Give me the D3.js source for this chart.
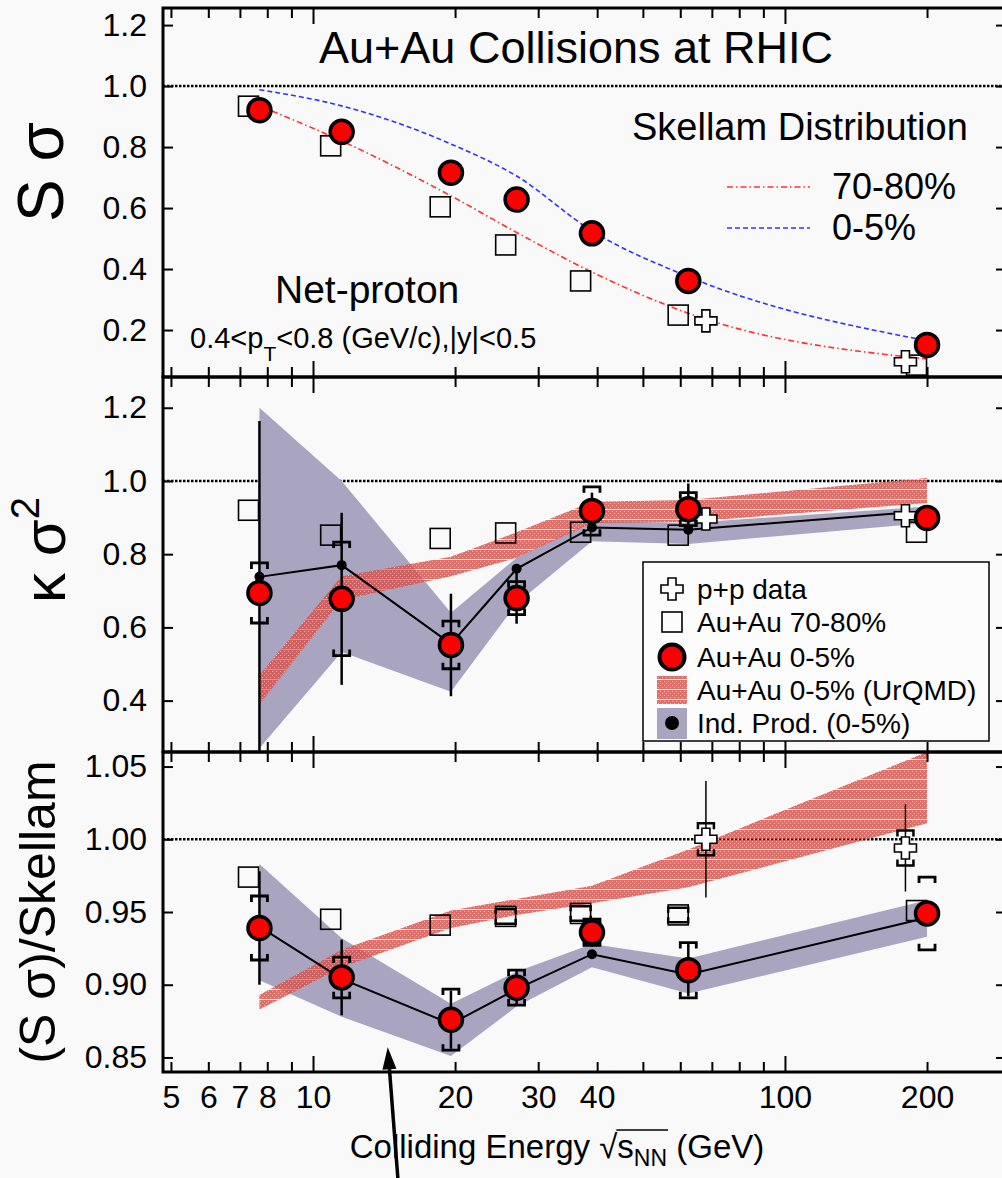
<!DOCTYPE html>
<html><head><meta charset="utf-8">
<script src="https://cdn.jsdelivr.net/npm/d3@7"></script>
<style>
html,body{margin:0;padding:0;background:#f9f9f9;}
svg{display:block;font-family:"Liberation Sans",Arial,Helvetica,sans-serif;}
</style></head><body><svg id="c" width="1002" height="1178"></svg>
<script>
// ---------------- DATA ----------------
const energies = [7.7, 11.5, 19.6, 27, 39, 62.4, 200];
const periphEnergies = [7.3, 10.9, 18.6, 25.6, 36.9, 59.4, 190];
const ppEnergies = [68, 180];
const xMajorTicks = [10, 100];
const xMinorTicks = [5, 6, 7, 8, 9, 20, 30, 40, 50, 60, 70, 80, 90, 200];
const xTickLabels = [5, 6, 7, 8, 10, 20, 30, 40, 100, 200];

// Panel 1: S sigma
const ssTicks = [0.2, 0.4, 0.6, 0.8, 1.0, 1.2];
const ssCentral = [0.921, 0.850, 0.716, 0.628, 0.517, 0.361, 0.151];
const ssPeriph = [0.934, 0.804, 0.604, 0.479, 0.361, 0.249, 0.085];
const ssPP = [0.23, 0.096];
const skellamPeriph = [0.935, 0.82, 0.64, 0.52, 0.39, 0.255, 0.105];
const skellamCentral = [0.988, 0.935, 0.81, 0.705, 0.525, 0.375, 0.165];

// Panel 2: kappa sigma^2
const ksTicks = [0.4, 0.6, 0.8, 1.0, 1.2];
const ksCentral = [0.694, 0.678, 0.552, 0.68, 0.918, 0.923, 0.899];
const ksStat = [0.47, 0.235, 0.14, 0.07, 0.05, 0.07, 0.02];
const ksSys = [0.082, 0.155, 0.065, 0.045, 0.066, 0.045, 0.015];
const ksPeriph = [0.92, 0.852, 0.843, 0.858, 0.86, 0.852, 0.86];
const ksPP = [0.896, 0.905];
const ksIndProd = [0.738, 0.77, 0.555, 0.76, 0.873, 0.867, 0.918];
const ksIndLow = [0.27, 0.533, 0.424, 0.665, 0.835, 0.828, 0.885];
const ksIndHigh = [1.2, 1.0, 0.64, 0.79, 0.89, 0.885, 0.93];
const ksUrqmdLow = [0.39, 0.675, 0.74, 0.79, 0.885, 0.888, 0.94];
const ksUrqmdHigh = [0.47, 0.74, 0.793, 0.86, 0.943, 0.948, 1.008];

// Panel 3: (S sigma)/Skellam
const rTicks = [0.85, 0.90, 0.95, 1.00, 1.05];
const rCentral = [0.939, 0.905, 0.876, 0.898, 0.936, 0.910, 0.949];
const rStat = [0.039, 0.026, 0.02, 0.012, 0.01, 0.018, 0.008];
const rSys = [0.022, 0.014, 0.021, 0.012, 0.009, 0.019, 0.025];
const rPeriph = [0.974, 0.945, 0.941, 0.947, 0.949, 0.948, 0.951];
const rPeriphSys = [0, 0, 0, 0.005, 0.005, 0.005, 0];
const rPP = [1.0, 0.994];
const rPPStat = [0.04, 0.03];
const rPPSys = [0.011, 0.012];
const rIndProd = [0.94, 0.904, 0.873, 0.897, 0.921, 0.907, 0.946];
const rIndLow = [0.903, 0.878, 0.851, 0.885, 0.912, 0.894, 0.933];
const rIndHigh = [0.983, 0.932, 0.887, 0.909, 0.928, 0.918, 0.958];
const rUrqmdLow = [0.883, 0.912, 0.939, 0.948, 0.956, 0.967, 1.011];
const rUrqmdHigh = [0.893, 0.924, 0.951, 0.959, 0.968, 0.993, 1.06];

const legendLabels = ["p+p data", "Au+Au 70-80%", "Au+Au 0-5%", "Au+Au 0-5% (UrQMD)", "Ind. Prod. (0-5%)"];
const skellamLabels = ["70-80%", "0-5%"];

// ---------------- LAYOUT ----------------
const svg = d3.select('#c');
const defs = svg.append('defs');
const X0 = 163, X1 = 1006;
const x = d3.scaleLog().domain([4.81, 294]).range([X0, X1]);
const panels = [
  {top: 8, bottom: 377, y: d3.scaleLinear().domain([0.046, 1.256]).range([377, 8]), ticks: ssTicks, fmt: d3.format('.1f')},
  {top: 377, bottom: 752, y: d3.scaleLinear().domain([0.2596, 1.284]).range([752, 377]), ticks: ksTicks, fmt: d3.format('.1f')},
  {top: 752, bottom: 1072, y: d3.scaleLinear().domain([0.84, 1.06]).range([1072, 752]), ticks: rTicks, fmt: d3.format('.2f')}
];
const RED = '#ff0000', LAV = '#a9a4c0';

// UrQMD pattern
const pat = defs.append('pattern').attr('id', 'urqmd').attr('patternUnits', 'userSpaceOnUse')
  .attr('width', 4).attr('height', 10);
pat.append('rect').attr('width', 4).attr('height', 9).attr('fill', '#d4504a').attr('fill-opacity', 0.82);
[[0,1],[2,3],[0,5],[2,7]].forEach(([a,b]) => pat.append('rect').attr('x', a).attr('y', b)
  .attr('width', 1).attr('height', 1).attr('fill', '#fff').attr('fill-opacity', 0.6));

panels.forEach((p, i) => {
  defs.append('clipPath').attr('id', 'clip' + i).append('rect')
    .attr('x', X0).attr('y', p.top).attr('width', X1 - X0).attr('height', p.bottom - p.top);
  p.g = svg.append('g').attr('clip-path', `url(#clip${i})`);
  // dotted unity line
  p.g.append('line').attr('x1', X0).attr('x2', X1).attr('y1', p.y(1)).attr('y2', p.y(1))
    .attr('stroke', '#000').attr('stroke-width', 2.5).attr('stroke-dasharray', '2.5,1.5');
});

// ---------- helpers ----------
function zip(es, vs) { return es.map((e, i) => ({e, v: vs[i]})); }
function band(g, y, lo, hi, fill) {
  const d = energies.map((e, i) => ({e, lo: lo[i], hi: hi[i]}));
  g.append('path').datum(d).attr('fill', fill)
    .attr('d', d3.area().x(d => x(d.e)).y0(d => y(d.lo)).y1(d => y(d.hi)));
}
function line(g, y, vals, w) {
  g.append('path').datum(zip(energies, vals)).attr('fill', 'none').attr('stroke', '#000')
    .attr('stroke-width', w).attr('d', d3.line().x(d => x(d.e)).y(d => y(d.v)));
}
function dots(g, y, es, vals, r) {
  g.selectAll(null).data(zip(es, vals)).join('circle')
    .attr('cx', d => x(d.e)).attr('cy', d => y(d.v)).attr('r', r).attr('fill', '#000');
}
function squares(g, y, es, vals) {
  g.selectAll(null).data(zip(es, vals)).join('rect')
    .attr('x', d => x(d.e) - 10).attr('y', d => y(d.v) - 10).attr('width', 20).attr('height', 20)
    .attr('fill', 'none').attr('stroke', '#000').attr('stroke-width', 1.6);
}
const crossPath = 'M-4,-11H4V-4H11V4H4V11H-4V4H-11V-4H-4Z';
function crosses(g, y, es, vals) {
  g.selectAll(null).data(zip(es, vals)).join('path')
    .attr('transform', d => `translate(${x(d.e)},${y(d.v)})`).attr('d', crossPath)
    .attr('fill', '#fff').attr('stroke', '#000').attr('stroke-width', 1.6);
}
function circles(g, y, es, vals) {
  g.selectAll(null).data(zip(es, vals)).join('circle')
    .attr('cx', d => x(d.e)).attr('cy', d => y(d.v)).attr('r', 11.5)
    .attr('fill', RED).attr('stroke', '#000').attr('stroke-width', 3.5);
}
function statBars(g, y, es, vals, errs, w) {
  g.selectAll(null).data(es.map((e, i) => ({e, v: vals[i], s: errs[i]}))).join('line')
    .attr('x1', d => x(d.e)).attr('x2', d => x(d.e))
    .attr('y1', d => y(d.v + d.s)).attr('y2', d => y(d.v - d.s))
    .attr('stroke', '#000').attr('stroke-width', w);
}
function sysBrackets(g, y, es, vals, errs, hw, h, w) {
  g.selectAll(null).data(es.map((e, i) => ({e, v: vals[i], s: errs[i]})).filter(d => d.s > 0)).join('path')
    .attr('d', d => {
      const cx = x(d.e), t = y(d.v + d.s), b = y(d.v - d.s);
      return `M${cx-hw},${t+h}V${t}H${cx+hw}V${t+h}M${cx-hw},${b-h}V${b}H${cx+hw}V${b-h}`;
    })
    .attr('fill', 'none').attr('stroke', '#000').attr('stroke-width', w);
}

// ---------- Panel 1 ----------
{
  const p = panels[0], g = p.g, y = p.y;
  const cl = d3.line().curve(d3.curveMonotoneX).x(d => x(d.e)).y(d => y(d.v));
  g.append('path').datum(zip(energies, skellamPeriph)).attr('d', cl).attr('fill', 'none')
    .attr('stroke', '#ff3030').attr('stroke-width', 1.6).attr('stroke-dasharray', '6,3,1.5,3');
  g.append('path').datum(zip(energies, skellamCentral)).attr('d', cl).attr('fill', 'none')
    .attr('stroke', '#3030ff').attr('stroke-width', 1.6).attr('stroke-dasharray', '5,3');
  squares(g, y, periphEnergies, ssPeriph);
  crosses(g, y, ppEnergies, ssPP);
  circles(g, y, energies, ssCentral);
}
// ---------- Panel 2 ----------
{
  const p = panels[1], g = p.g, y = p.y;
  band(g, y, ksIndLow, ksIndHigh, LAV);
  band(g, y, ksUrqmdLow, ksUrqmdHigh, 'url(#urqmd)');
  line(g, y, ksIndProd, 2);
  dots(g, y, energies, ksIndProd, 5);
  squares(g, y, periphEnergies, ksPeriph);
  crosses(g, y, ppEnergies, ksPP);
  statBars(g, y, energies, ksCentral, ksStat, 2.5);
  sysBrackets(g, y, energies, ksCentral, ksSys, 8, 6, 2.8);
  circles(g, y, energies, ksCentral);
}
// ---------- Panel 3 ----------
{
  const p = panels[2], g = p.g, y = p.y;
  band(g, y, rIndLow, rIndHigh, LAV);
  band(g, y, rUrqmdLow, rUrqmdHigh, 'url(#urqmd)');
  line(g, y, rIndProd, 2);
  dots(g, y, energies, rIndProd, 5);
  squares(g, y, periphEnergies, rPeriph);
  sysBrackets(g, y, periphEnergies, rPeriph, rPeriphSys, 10, 5, 2.5);
  statBars(g, y, ppEnergies, rPP, rPPStat, 1.5);
  crosses(g, y, ppEnergies, rPP);
  sysBrackets(g, y, ppEnergies, rPP, rPPSys, 8, 6, 2.5);
  statBars(g, y, energies, rCentral, rStat, 2.5);
  sysBrackets(g, y, energies, rCentral, rSys, 8, 6, 2.8);
  circles(g, y, energies, rCentral);
}

// ---------- Axes & frames ----------
const axG = svg.append('g');
panels.forEach((p, i) => {
  const l = axG.append('g').attr('transform', `translate(${X0},0)`)
    .call(d3.axisLeft(p.y).tickValues(p.ticks).tickSize(-10).tickPadding(16).tickFormat(p.fmt));
  l.selectAll('text').attr('font-size', 32).attr('fill', '#000').attr('font-family', '"Liberation Sans",Arial,sans-serif');
  const r = axG.append('g').attr('transform', `translate(${X1},0)`)
    .call(d3.axisRight(p.y).tickValues(p.ticks).tickSize(-10).tickFormat(''));
  [[xMinorTicks, 10], [xMajorTicks, 16]].forEach(([tv, s]) => {
    axG.append('g').attr('transform', `translate(0,${p.bottom})`)
      .call(d3.axisBottom(x).tickValues(tv).tickSize(-s).tickFormat(''));
    axG.append('g').attr('transform', `translate(0,${p.top})`)
      .call(d3.axisTop(x).tickValues(tv).tickSize(-s).tickFormat(''));
  });
  axG.append('rect').attr('x', X0).attr('y', p.top).attr('width', X1 - X0).attr('height', p.bottom - p.top)
    .attr('fill', 'none').attr('stroke', '#000').attr('stroke-width', 3);
});
axG.selectAll('.domain').remove();
axG.selectAll('.tick line').attr('stroke', '#000').attr('stroke-width', 2);
const xl = axG.append('g').attr('transform', `translate(0,${panels[2].bottom})`)
  .call(d3.axisBottom(x).tickValues(xTickLabels).tickSize(0).tickPadding(13).tickFormat(d3.format('d')));
xl.select('.domain').remove();
xl.selectAll('text').attr('font-size', 32).attr('fill', '#000').attr('font-family', '"Liberation Sans",Arial,sans-serif');

// ---------- Texts ----------
const T = svg.append('g').attr('fill', '#000');
T.append('text').attr('x', 576).attr('y', 63).attr('text-anchor', 'middle').attr('font-size', 45)
  .text('Au+Au Collisions at RHIC');
T.append('text').attr('x', 632).attr('y', 140).attr('font-size', 38).text('Skellam Distribution');
const y1 = panels[0].y;
[['#ff3030', '6,3,1.5,3'], ['#3030ff', '5,3']].forEach(([c, da], i) => {
  const yy = [187, 228][i];
  T.append('line').attr('x1', 727).attr('x2', 810).attr('y1', yy).attr('y2', yy)
    .attr('stroke', c).attr('stroke-width', 1.6).attr('stroke-dasharray', da);
  T.append('text').attr('x', 832).attr('y', yy + 12).attr('font-size', 36).text(skellamLabels[i]);
});
T.append('text').attr('x', 275).attr('y', 303).attr('font-size', 39).text('Net-proton');
const kin = T.append('text').attr('x', 190).attr('y', 348).attr('font-size', 29);
kin.append('tspan').text('0.4<p');
kin.append('tspan').attr('font-size', 21).attr('dy', 13).text('T');
kin.append('tspan').attr('dy', -13).text('<0.8 (GeV/c),|y|<0.5');

// y-axis titles
T.append('text').attr('transform', 'translate(63,172) rotate(-90)').attr('text-anchor', 'middle')
  .attr('font-size', 64).text('S σ');
const ky = T.append('text').attr('transform', 'translate(65,550) rotate(-90)').attr('text-anchor', 'middle')
  .attr('font-size', 60);
ky.append('tspan').text('κ σ');
ky.append('tspan').attr('font-size', 40).attr('dy', -26).text('2');
T.append('text').attr('transform', 'translate(55,912) rotate(-90)').attr('text-anchor', 'middle')
  .attr('font-size', 50).text('(S σ)/Skellam');

// x-axis title
const xt = T.append('text').attr('x', 557).attr('y', 1158).attr('text-anchor', 'middle').attr('font-size', 33);
xt.append('tspan').text('Colliding Energy √s');
xt.append('tspan').attr('font-size', 23).attr('dy', 8).text('NN');
xt.append('tspan').attr('dy', -8).text(' (GeV)');
{
  const n = xt.node();
  const full = 'Colliding Energy √sNN (GeV)';
  const iR = full.indexOf('√');
  const a = n.getEndPositionOfChar(iR).x - 1, b = n.getEndPositionOfChar(iR + 3).x + 1;
  T.append('line').attr('x1', a).attr('x2', b).attr('y1', 1158 - 28).attr('y2', 1158 - 28)
    .attr('stroke', '#000').attr('stroke-width', 1.5);
}

// ---------- Legend (panel 2) ----------
const L = svg.append('g');
L.append('rect').attr('x', 643).attr('y', 562).attr('width', 346).attr('height', 179)
  .attr('fill', '#fcfcfc').attr('stroke', '#000').attr('stroke-width', 1.5);
const rowY = [589, 622, 657, 690, 723];
L.append('path').attr('transform', `translate(672,${rowY[0]})`).attr('d', crossPath)
  .attr('fill', '#fff').attr('stroke', '#000').attr('stroke-width', 1.6);
L.append('rect').attr('x', 662).attr('y', rowY[1] - 10).attr('width', 20).attr('height', 20)
  .attr('fill', 'none').attr('stroke', '#000').attr('stroke-width', 1.6);
L.append('circle').attr('cx', 672).attr('cy', rowY[2]).attr('r', 12.5).attr('fill', RED)
  .attr('stroke', '#000').attr('stroke-width', 4);
L.append('rect').attr('x', 657).attr('y', rowY[3] - 14).attr('width', 30).attr('height', 28).attr('fill', 'url(#urqmd)');
L.append('rect').attr('x', 657).attr('y', rowY[4] - 15).attr('width', 30).attr('height', 31).attr('fill', LAV);
L.append('circle').attr('cx', 672).attr('cy', rowY[4]).attr('r', 7).attr('fill', '#000');
legendLabels.forEach((t, i) => L.append('text').attr('x', 697).attr('y', rowY[i] + 10)
  .attr('font-size', 28).text(t));

// ---------- Arrow annotation ----------
{
  const y3 = panels[2].y;
  const tip = [x(14.4), y3(0.857)], tail = [x(15.15), 1182];
  const dx = tip[0] - tail[0], dy = tip[1] - tail[1], len = Math.hypot(dx, dy);
  const ux = dx / len, uy = dy / len, px = -uy, py = ux;
  const hl = 22, hw = 7;
  const base = [tip[0] - ux * hl, tip[1] - uy * hl];
  svg.append('line').attr('x1', tail[0]).attr('y1', tail[1]).attr('x2', base[0]).attr('y2', base[1])
    .attr('stroke', '#000').attr('stroke-width', 3.5);
  svg.append('path').attr('d', `M${tip[0]},${tip[1]}L${base[0] + px * hw},${base[1] + py * hw}L${base[0] - px * hw},${base[1] - py * hw}Z`)
    .attr('fill', '#000');
}
</script></body></html>
